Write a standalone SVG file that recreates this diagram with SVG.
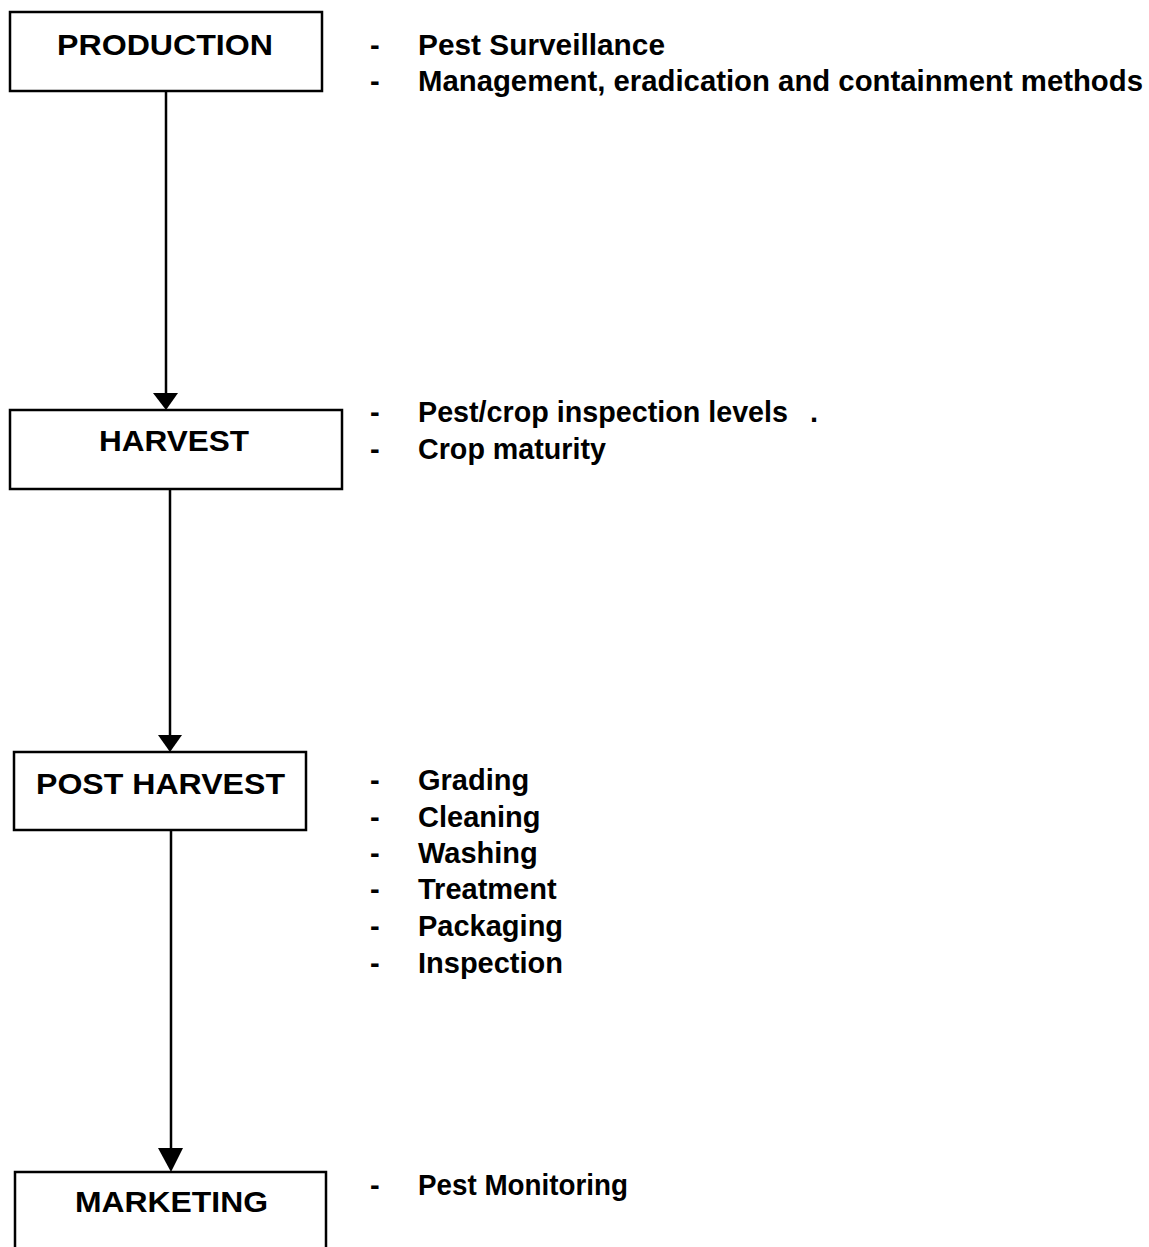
<svg xmlns="http://www.w3.org/2000/svg" width="1149" height="1247" viewBox="0 0 1149 1247">
<style>
.box{fill:#fff;stroke:#000;stroke-width:2.5}
.lbl{font-family:"Liberation Sans",Arial,sans-serif;font-weight:bold;font-size:30px;fill:#000}
.item{font-family:"Liberation Sans",Arial,sans-serif;font-weight:bold;font-size:29px;fill:#000}
.conn{stroke:#000;stroke-width:2.5;fill:none}
.head{fill:#000}
</style>
<rect width="1149" height="1247" fill="#fff"/>
<g id="connectors">
<line class="conn" x1="166" y1="91" x2="166" y2="394"/>
<polygon class="head" points="153,393 178,393 166,410"/>
<line class="conn" x1="170" y1="489" x2="170" y2="736"/>
<polygon class="head" points="158,735 182,735 170,752"/>
<line class="conn" x1="171" y1="830" x2="171" y2="1150"/>
<polygon class="head" points="158,1148 183,1148 171,1172"/>
</g>
<g id="production">
<rect class="box" x="10" y="12" width="312" height="79"/>
<text class="lbl" x="57" y="55" textLength="216" lengthAdjust="spacingAndGlyphs">PRODUCTION</text>
<text class="item" x="370" y="55">-</text>
<text class="item" x="418" y="55" textLength="247" lengthAdjust="spacingAndGlyphs">Pest Surveillance</text>
<text class="item" x="370" y="91">-</text>
<text class="item" x="418" y="91" textLength="725" lengthAdjust="spacingAndGlyphs">Management, eradication and containment methods</text>
</g>
<g id="harvest">
<rect class="box" x="10" y="410" width="332" height="79"/>
<text class="lbl" x="99" y="451" textLength="150" lengthAdjust="spacingAndGlyphs">HARVEST</text>
<text class="item" x="370" y="422">-</text>
<text class="item" x="418" y="422" textLength="370" lengthAdjust="spacingAndGlyphs">Pest/crop inspection levels</text>
<text class="item" x="810" y="422">.</text>
<text class="item" x="370" y="459">-</text>
<text class="item" x="418" y="459" textLength="188" lengthAdjust="spacingAndGlyphs">Crop maturity</text>
</g>
<g id="post-harvest">
<rect class="box" x="14" y="752" width="292" height="78"/>
<text class="lbl" x="36" y="794" textLength="249" lengthAdjust="spacingAndGlyphs">POST HARVEST</text>
<text class="item" x="370" y="790">-</text>
<text class="item" x="418" y="790">Grading</text>
<text class="item" x="370" y="827">-</text>
<text class="item" x="418" y="827">Cleaning</text>
<text class="item" x="370" y="863">-</text>
<text class="item" x="418" y="863">Washing</text>
<text class="item" x="370" y="899">-</text>
<text class="item" x="418" y="899">Treatment</text>
<text class="item" x="370" y="936">-</text>
<text class="item" x="418" y="936">Packaging</text>
<text class="item" x="370" y="973">-</text>
<text class="item" x="418" y="973">Inspection</text>
</g>
<g id="marketing">
<path class="box" d="M15,1260 V1172 H326 V1260"/>
<text class="lbl" x="75" y="1212" textLength="193" lengthAdjust="spacingAndGlyphs">MARKETING</text>
<text class="item" x="370" y="1195">-</text>
<text class="item" x="418" y="1195" textLength="210" lengthAdjust="spacingAndGlyphs">Pest Monitoring</text>
</g>
</svg>
